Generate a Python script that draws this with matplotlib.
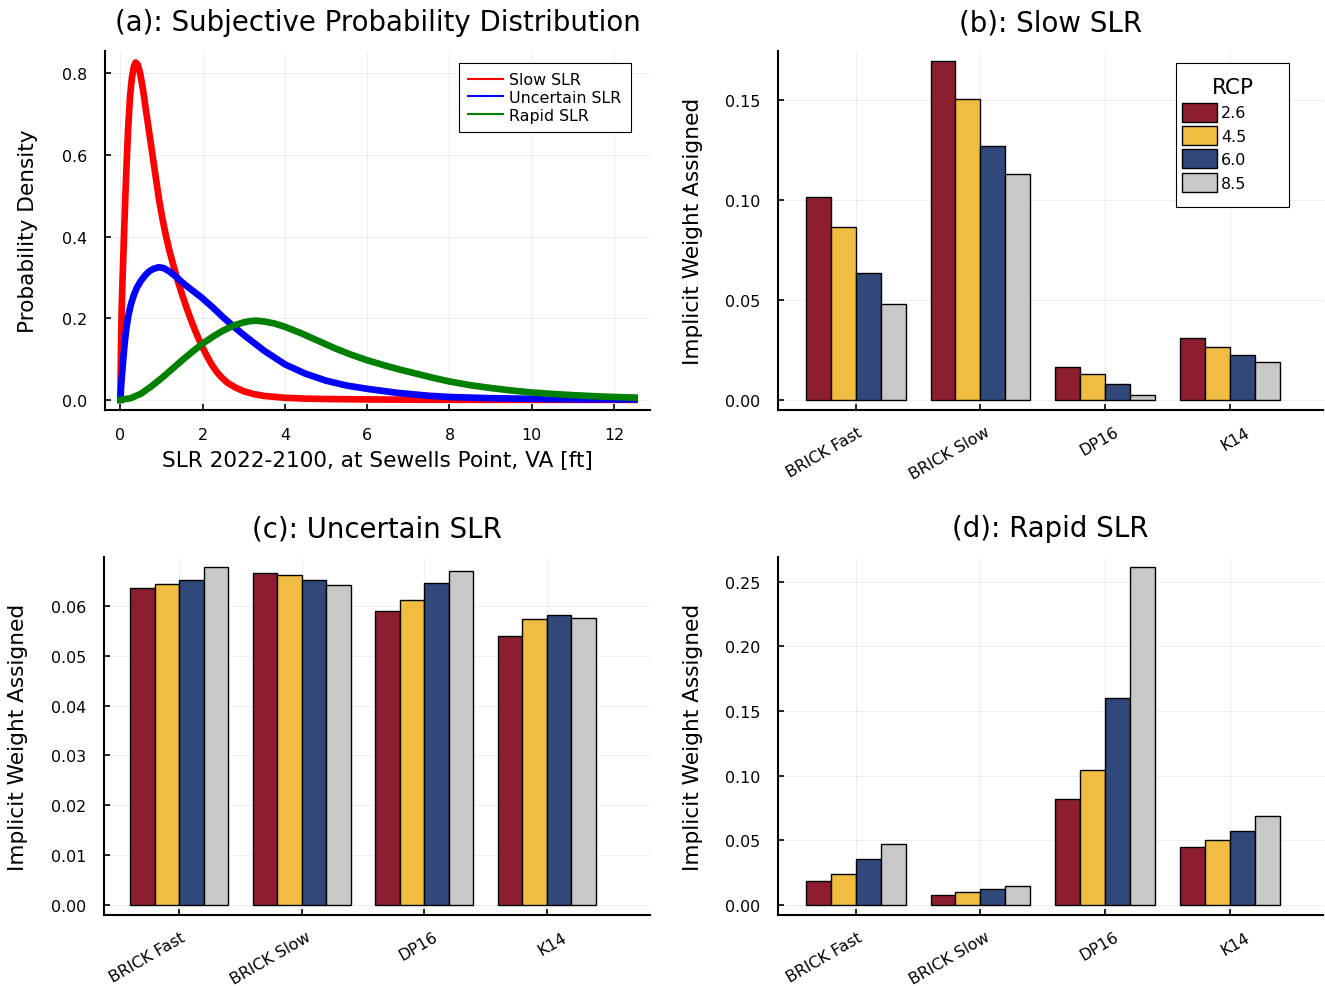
import matplotlib.pyplot as plt
from matplotlib.lines import Line2D
from matplotlib.patches import Patch, Rectangle
from matplotlib.ticker import FormatStrFormatter
from matplotlib.transforms import ScaledTranslation

# panel (a): subjective densities
slow_x = [0, 0.01, 0.03, 0.05, 0.07, 0.09, 0.12, 0.155, 0.19, 0.235, 0.28, 0.33, 0.37, 0.42, 0.48,
          0.55, 0.62, 0.70, 0.78, 0.86, 0.94, 1.02, 1.1, 1.2, 1.3, 1.4, 1.5, 1.6, 1.7, 1.8, 1.9, 2.0,
          2.1, 2.21, 2.33, 2.45, 2.6, 2.8, 3.0, 3.25, 3.5, 4.0, 4.5, 5.0, 6.0, 7.0, 8.0, 10.0, 12.5]
slow_y = [0, 0.10, 0.22, 0.29, 0.35, 0.41, 0.50, 0.59, 0.67, 0.745, 0.79, 0.818, 0.827, 0.822, 0.80,
          0.76, 0.71, 0.655, 0.60, 0.545, 0.49, 0.445, 0.405, 0.362, 0.325, 0.29, 0.258, 0.228, 0.2,
          0.174, 0.15, 0.128, 0.108, 0.088, 0.07, 0.056, 0.042, 0.03, 0.021, 0.014, 0.0095, 0.005,
          0.003, 0.002, 0.001, 0.0004, 0.0002, 0.0, 0.0]

uncertain_x = [0, 0.015, 0.04, 0.07, 0.1, 0.14, 0.19, 0.25, 0.32, 0.4, 0.5, 0.6, 0.7, 0.8, 0.93,
               1.05, 1.2, 1.35, 1.5, 1.75, 1.97, 2.25, 2.5, 2.75, 3.0, 3.5, 4.0, 4.5, 5.0, 5.5, 6.0,
               6.74, 7.5, 8.0, 9.0, 10.0, 11.0, 12.5]
uncertain_y = [0, 0.03, 0.065, 0.10, 0.135, 0.172, 0.205, 0.232, 0.255, 0.275, 0.292, 0.305, 0.315,
               0.321, 0.325, 0.323, 0.314, 0.302, 0.288, 0.268, 0.251, 0.226, 0.202, 0.18, 0.159,
               0.12, 0.087, 0.064, 0.047, 0.035, 0.027, 0.017, 0.010, 0.007, 0.004, 0.0025, 0.0015,
               0.001]

rapid_x = [0, 0.25, 0.5, 0.75, 1.0, 1.25, 1.5, 1.75, 2.0, 2.25, 2.5, 2.75, 3.0, 3.15, 3.3, 3.5,
           3.75, 4.0, 4.4, 4.8, 5.2, 5.6, 6.0, 6.4, 6.8, 7.2, 7.6, 8.0, 8.5, 9.0, 9.5, 10.0, 10.5,
           11.0, 11.5, 12.0, 12.5]
rapid_y = [0, 0.004, 0.015, 0.033, 0.053, 0.075, 0.097, 0.118, 0.138, 0.155, 0.17, 0.182, 0.19,
           0.193, 0.194, 0.192, 0.187, 0.179, 0.163, 0.145, 0.127, 0.111, 0.097, 0.085, 0.074, 0.064,
           0.054, 0.045, 0.036, 0.029, 0.023, 0.018, 0.0145, 0.0115, 0.009, 0.007, 0.0055]

# panels (b)-(d): implicit weights, rows = models, columns = RCPs
models = ['BRICK Fast', 'BRICK Slow', 'DP16', 'K14']
rcps = ['2.6', '4.5', '6.0', '8.5']
rcp_colors = ['#8C1E30', '#F0BC42', '#30487A', '#C8C8CA']

w_slow = [[0.1015, 0.0865, 0.0637, 0.0480],
          [0.1697, 0.1507, 0.1270, 0.1134],
          [0.0162, 0.0129, 0.0077, 0.0025],
          [0.0311, 0.0264, 0.0224, 0.0192]]
w_uncertain = [[0.0635, 0.0643, 0.0651, 0.0677],
               [0.0665, 0.0662, 0.0651, 0.0641],
               [0.0590, 0.0612, 0.0645, 0.0669],
               [0.0540, 0.0573, 0.0581, 0.0575]]
w_rapid = [[0.0183, 0.0242, 0.0355, 0.0473],
           [0.0077, 0.0100, 0.0123, 0.0144],
           [0.0818, 0.1047, 0.1603, 0.2613],
           [0.0448, 0.0499, 0.0571, 0.0689]]

W, H = 1325, 987
fig = plt.figure(figsize=(W / 100, H / 100), dpi=100)

TICK_FS, GUIDE_FS, TITLE_FS = 11.4, 15.6, 19.9


def px_axes(l, r, t, b):
    return fig.add_axes([l / W, 1 - b / H, (r - l) / W, (b - t) / H])


def style_axes(ax):
    for s in ['top', 'right']:
        ax.spines[s].set_visible(False)
    for s in ['left', 'bottom']:
        ax.spines[s].set_linewidth(1.5)
    ax.tick_params(direction='in', length=4, width=1.2, labelsize=TICK_FS)
    ax.tick_params(axis='y', pad=13)
    ax.grid(True, color='k', alpha=0.08, linewidth=0.6)
    ax.set_axisbelow(True)


# (a) densities
ax = px_axes(105, 650, 52, 411)
style_axes(ax)
ax.plot(slow_x, slow_y, color='red', lw=4.8, solid_joinstyle='round')
ax.plot(uncertain_x, uncertain_y, color='blue', lw=4.8, solid_joinstyle='round')
ax.plot(rapid_x, rapid_y, color='green', lw=4.8, solid_joinstyle='round')
ax.set_xlim(-0.375, 12.875)
ax.set_ylim(-0.0249, 0.855)
ax.set_xticks(range(0, 13, 2))
ax.set_yticks([0, 0.2, 0.4, 0.6, 0.8])
ax.yaxis.set_major_formatter(FormatStrFormatter('%.1f'))
ax.tick_params(axis='x', pad=12)
ax.set_xlabel('SLR 2022-2100, at Sewells Point, VA [ft]', fontsize=GUIDE_FS, labelpad=6)
ax.set_ylabel('Probability Density', fontsize=GUIDE_FS)
ax.yaxis.set_label_coords(-0.123, 0.5)
ax.set_title('(a): Subjective Probability Distribution', fontsize=TITLE_FS, pad=15)
handles = [Line2D([], [], color=c, lw=1.5) for c in ['red', 'blue', 'green']]
leg = ax.legend(handles, ['Slow SLR', 'Uncertain SLR', 'Rapid SLR'], loc='upper right',
                bbox_to_anchor=(0.965, 0.9666), fontsize=TICK_FS, fancybox=False,
                edgecolor='black', framealpha=1, borderpad=0.6, labelspacing=0.16,
                handlelength=2.2, handletextpad=0.4, borderaxespad=0)
leg.get_frame().set_linewidth(0.8)

# (b)-(d) grouped bars
panels = [
    ('(b): Slow SLR', w_slow, (778, 1323, 52, 411), (-0.0051, 0.1748), [0, 0.05, 0.10, 0.15],
     (-0.623, 3.747), -0.138),
    ('(c): Uncertain SLR', w_uncertain, (104, 650, 558, 916), (-0.002, 0.0698),
     [0, 0.01, 0.02, 0.03, 0.04, 0.05, 0.06], (-0.612, 3.842), -0.139),
    ('(d): Rapid SLR', w_rapid, (778, 1323, 558, 916), (-0.0078, 0.2691),
     [0, 0.05, 0.10, 0.15, 0.20, 0.25], (-0.623, 3.747), -0.138),
]
offsets = [-0.3, -0.1, 0.1, 0.3]
label_shift = [0, 3, 8, 14]  # px, short labels sit further right of their tick

for title, w, box, ylim, yticks, xlim, ylab_x in panels:
    ax = px_axes(*box)
    style_axes(ax)
    for j in range(len(rcps)):
        ax.bar([i + offsets[j] for i in range(len(models))], [row[j] for row in w], width=0.2,
               color=rcp_colors[j], edgecolor='black', linewidth=1.0, label=rcps[j])
    ax.set_xlim(*xlim)
    ax.set_ylim(*ylim)
    ax.set_yticks(yticks)
    ax.yaxis.set_major_formatter(FormatStrFormatter('%.2f'))
    ax.set_xticks(range(len(models)))
    ax.set_xticklabels([])
    for i, name in enumerate(models):
        tr = ax.get_xaxis_transform() + ScaledTranslation((label_shift[i] + 1) / 100, -14 / 100,
                                                          fig.dpi_scale_trans)
        ax.text(i, 0, name, transform=tr, rotation=30, ha='right', va='top',
                rotation_mode='anchor', fontsize=TICK_FS)
    ax.set_ylabel('Implicit Weight Assigned', fontsize=GUIDE_FS)
    ax.yaxis.set_label_coords(ylab_x, 0.5)
    ax.set_title(title, fontsize=TITLE_FS, pad=15)

    if title.startswith('(b)'):
        # legend frame and title placed like the reference, entries drawn on top
        ax.add_patch(Rectangle((1176 / W, 1 - 208 / H), 113 / W, 144 / H,
                               transform=fig.transFigure, facecolor='white', edgecolor='black',
                               linewidth=0.8, zorder=4, clip_on=False))
        ax.text(1233 / W, 1 - 88 / H, 'RCP', transform=fig.transFigure, ha='center',
                va='center', fontsize=GUIDE_FS, zorder=6)
        patches = [Patch(facecolor=c, edgecolor='black', linewidth=1.0) for c in rcp_colors]
        leg = ax.legend(patches, rcps, loc='upper left', bbox_to_anchor=(1181.7 / W, 1 - 103.5 / H),
                        bbox_transform=fig.transFigure, fontsize=TICK_FS, frameon=False,
                        borderpad=0, labelspacing=0.28, handlelength=2.2, handleheight=1.47,
                        handletextpad=0.3, borderaxespad=0)
        leg.set_zorder(7)

plt.savefig('out.png', dpi=100)
